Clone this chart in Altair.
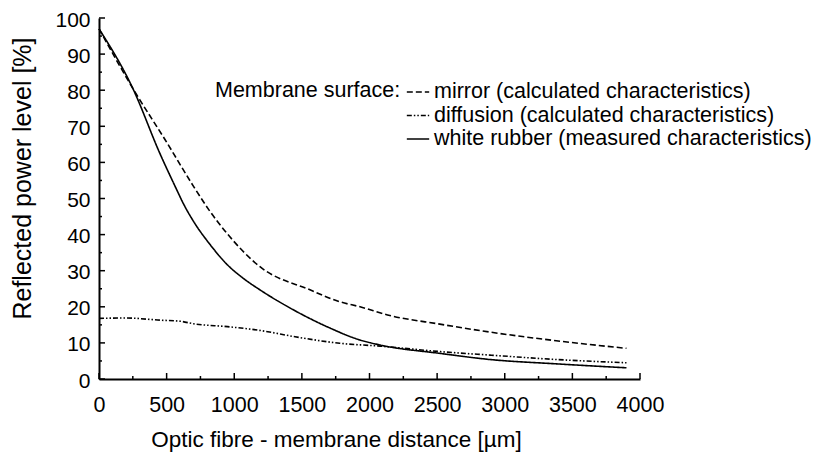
import altair as alt
import pandas as pd

# ---- data ----
series_names = [
    "mirror (calculated characteristics)",
    "diffusion (calculated characteristics)",
    "white rubber (measured characteristics)",
]

mirror_x = [0, 250, 490, 700, 810, 945, 1190, 1560, 1780, 1930, 2150, 2520, 2890, 3380, 3900]
mirror_y = [97, 80.5, 66.2, 53.3, 47.0, 40.4, 31.1, 24.7, 21.4, 20.0, 17.6, 15.2, 13.0, 10.6, 8.5]

diffusion_x = [0, 200, 450, 600, 700, 950, 1200, 1450, 1780, 2080, 2520, 2900, 3380, 3900]
diffusion_y = [16.8, 16.9, 16.3, 16.0, 15.3, 14.5, 13.4, 11.7, 9.9, 9.1, 7.6, 6.6, 5.4, 4.5]

rubber_x = [0, 250, 450, 575, 625, 700, 820, 945, 1070, 1190, 1440, 1685, 1930, 2080, 2520, 2890, 3380, 3900]
rubber_y = [97, 80.5, 62.5, 52.4, 48.5, 43.6, 37.3, 31.8, 27.8, 24.7, 19.1, 14.5, 10.8, 9.4, 7.1, 5.4, 4.2, 3.1]

x_major_ticks = [0, 500, 1000, 1500, 2000, 2500, 3000, 3500, 4000]
x_minor_ticks = [250, 750, 1250, 1750, 2250, 2750, 3250, 3750]
y_major_ticks = [0, 10, 20, 30, 40, 50, 60, 70, 80, 90, 100]
y_minor_ticks = [5, 15, 25, 35, 45, 55, 65, 75, 85, 95]

# ---- build tables ----
rows = []
for name, xs, ys in zip(series_names,
                        [mirror_x, diffusion_x, rubber_x],
                        [mirror_y, diffusion_y, rubber_y]):
    for xv, yv in zip(xs, ys):
        rows.append({"x": xv, "y": yv, "series": name})
df = pd.DataFrame(rows)

W, H = 541, 361
FONT = "Liberation Sans"

x_scale = alt.Scale(domain=[0, 4000], nice=False, zero=False)
y_scale = alt.Scale(domain=[0, 100], nice=False, zero=False)
dash_scale = alt.Scale(domain=series_names,
                       range=[[6, 3], [5, 2, 1.5, 2, 1.5, 2], [1, 0]])

x_axis = alt.Axis(
    values=x_major_ticks, format="d", title="Optic fibre - membrane distance [µm]",
    titleFont=FONT, titleFontSize=22.5, titleFontWeight="normal", titleColor="black",
    titleX=237, titleY=67, titleAlign="center", titleBaseline="alphabetic",
    labelFont=FONT, labelFontSize=21.5, labelColor="black", labelPadding=15,
    labelFlush=False, labelOverlap=False,
    ticks=False, tickSize=0, grid=False, domainColor="black", domainWidth=2,
)
y_axis = alt.Axis(
    values=y_major_ticks, format="d", title="Reflected power level [%]",
    titleFont=FONT, titleFontSize=25, titleFontWeight="normal", titleColor="black",
    titleX=-77, titleY=160, titleAlign="center", titleBaseline="middle", titleAngle=270,
    labelFont=FONT, labelFontSize=21, labelColor="black", labelPadding=9, labelOffset=2,
    labelFlush=False, labelOverlap=False,
    ticks=False, tickSize=0, grid=False, domainColor="black", domainWidth=2,
)

legend = alt.Legend(
    title="Membrane surface:", orient="none", legendX=116, legendY=62,
    titleOrient="left", titleFont=FONT, titleFontSize=21.5, titleFontWeight="normal",
    titleColor="black", titlePadding=5, titleBaseline="top", titleAnchor="start",
    titleLimit=0,
    labelFont=FONT, labelFontSize=21.5, labelColor="black", labelOffset=4, labelLimit=0,
    symbolType="stroke", symbolSize=500, symbolStrokeWidth=1.6, symbolStrokeColor="black",
    rowPadding=0.5, padding=0,
)

lines = alt.Chart(df).mark_line(color="black", strokeWidth=1.6, interpolate="monotone").encode(
    x=alt.X("x:Q", scale=x_scale, axis=x_axis),
    y=alt.Y("y:Q", scale=y_scale, axis=y_axis),
    strokeDash=alt.StrokeDash("series:N", scale=dash_scale, legend=legend),
)

xmaj = alt.Chart(pd.DataFrame({"x": x_major_ticks})).mark_rule(color="black", strokeWidth=1.5).encode(
    x=alt.X("x:Q", scale=x_scale, axis=x_axis), y=alt.value(H), y2=alt.value(H - 6))
xmin = alt.Chart(pd.DataFrame({"x": x_minor_ticks})).mark_rule(color="black", strokeWidth=1.5).encode(
    x=alt.X("x:Q", scale=x_scale, axis=x_axis), y=alt.value(H), y2=alt.value(H - 3))
ymaj = alt.Chart(pd.DataFrame({"y": y_major_ticks})).mark_rule(color="black", strokeWidth=1.5).encode(
    y=alt.Y("y:Q", scale=y_scale, axis=y_axis), x=alt.value(0), x2=alt.value(6))
ymin = alt.Chart(pd.DataFrame({"y": y_minor_ticks})).mark_rule(color="black", strokeWidth=1.5).encode(
    y=alt.Y("y:Q", scale=y_scale, axis=y_axis), x=alt.value(0), x2=alt.value(3))

chart = alt.layer(lines, xmaj, xmin, ymaj, ymin).properties(
    width=W, height=H,
    padding={"left": 91, "top": 10, "right": 175, "bottom": 73},
    autosize=alt.AutoSizeParams(type="none"),
    background="white",
).configure_view(stroke=None)

chart.save("out.html", embed_options={"renderer": "svg", "actions": False})
